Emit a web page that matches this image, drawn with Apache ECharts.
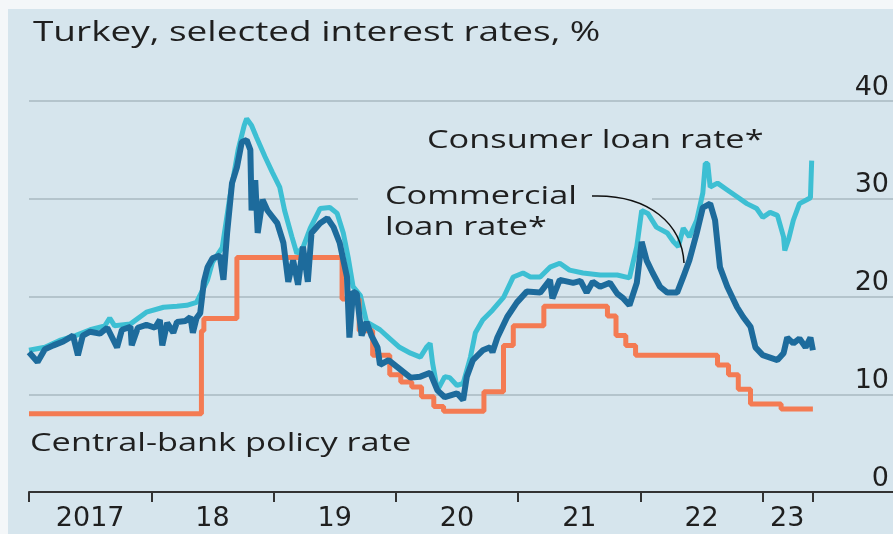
<!DOCTYPE html>
<html>
<head>
<meta charset="utf-8">
<script src="https://cdn.jsdelivr.net/npm/echarts@6/dist/echarts.min.js"></script>
<style>
  html, body { margin: 0; padding: 0; background: #fff; }
  #chart { width: 893px; height: 534px; }
</style>
</head>
<body>
<div id="chart"></div>
<script>
// year ticks and labels (labels sit between ticks)
var tickYears = [2017, 2018, 2019, 2020, 2021, 2022, 2023, 2023.41];
var labelYears = [2017.5, 2018.5, 2019.5, 2020.5, 2021.5, 2022.5, 2023.2];
var yearLabels = ['2017', '18', '19', '20', '21', '22', '23'];

// central-bank policy rate, [date as decimal year, rate] at each change
var policyRate = [
  [2017.00, 8], [2018.41, 16.5], [2018.43, 17.75], [2018.70, 24], [2019.56, 19.75],
  [2019.70, 16.5], [2019.81, 14], [2019.95, 12], [2020.04, 11.25], [2020.13, 10.75],
  [2020.21, 9.75], [2020.31, 8.75], [2020.39, 8.25], [2020.72, 10.25], [2020.88, 15],
  [2020.96, 17], [2021.21, 19], [2021.73, 18], [2021.80, 16], [2021.88, 15],
  [2021.96, 14], [2022.63, 13], [2022.72, 12], [2022.80, 10.5], [2022.90, 9],
  [2023.15, 8.5], [2023.41, 8.5]
];

// consumer loan rate*
var consumerRate = [
  [2017.00, 14.5], [2017.13, 14.8], [2017.25, 15.5], [2017.38, 16.0], [2017.50, 16.6],
  [2017.62, 17.0], [2017.66, 17.8], [2017.70, 17.0], [2017.83, 17.2], [2017.96, 18.4],
  [2018.10, 18.9], [2018.21, 19.0], [2018.29, 19.1], [2018.37, 19.4], [2018.46, 21.7],
  [2018.50, 23.5], [2018.58, 25.0], [2018.64, 30.0], [2018.71, 35.0], [2018.76, 37.5],
  [2018.78, 38.2], [2018.82, 37.5], [2018.86, 36.3], [2018.93, 34.3], [2018.99, 32.7],
  [2019.05, 31.2], [2019.09, 28.8], [2019.15, 26.1], [2019.19, 24.4], [2019.24, 25.0],
  [2019.30, 27.0], [2019.38, 29.0], [2019.46, 29.1], [2019.52, 28.5], [2019.57, 26.5],
  [2019.61, 24.0], [2019.65, 21.0], [2019.71, 20.1], [2019.76, 17.4], [2019.87, 16.6],
  [2019.95, 15.7], [2020.03, 14.8], [2020.12, 14.2], [2020.20, 13.8], [2020.25, 14.8],
  [2020.28, 15.2], [2020.30, 13.2], [2020.34, 10.4], [2020.40, 11.8], [2020.44, 11.7],
  [2020.50, 10.9], [2020.55, 11.1], [2020.61, 13.8], [2020.65, 16.3], [2020.71, 17.6],
  [2020.79, 18.6], [2020.88, 19.9], [2020.96, 22.0], [2021.04, 22.4], [2021.10, 22.0],
  [2021.18, 22.0], [2021.26, 23.0], [2021.34, 23.4], [2021.42, 22.7], [2021.53, 22.4],
  [2021.67, 22.2], [2021.81, 22.2], [2021.91, 21.9], [2021.97, 25.1], [2022.01, 28.8],
  [2022.06, 28.5], [2022.13, 27.1], [2022.22, 26.5], [2022.27, 25.6], [2022.31, 25.1],
  [2022.35, 27.0], [2022.40, 26.1], [2022.46, 27.8], [2022.51, 30.6], [2022.53, 33.6],
  [2022.55, 33.6], [2022.57, 31.2], [2022.63, 31.6], [2022.71, 30.9], [2022.79, 30.2],
  [2022.87, 29.5], [2022.95, 29.0], [2023.00, 28.1], [2023.06, 28.6], [2023.12, 28.3],
  [2023.17, 26.1], [2023.18, 24.7], [2023.21, 25.8], [2023.25, 27.8], [2023.30, 29.5],
  [2023.36, 29.9], [2023.39, 30.1], [2023.40, 33.9]
];

// commercial loan rate*
var commercialRate = [
  [2017.00, 14.3], [2017.07, 13.3], [2017.13, 14.6], [2017.20, 15.0], [2017.28, 15.4],
  [2017.36, 16.0], [2017.40, 14.0], [2017.44, 16.0], [2017.50, 16.4], [2017.58, 16.2],
  [2017.64, 16.8], [2017.72, 14.8], [2017.76, 16.6], [2017.83, 16.9], [2017.84, 15.0],
  [2017.89, 16.8], [2017.96, 17.1], [2018.03, 16.8], [2018.07, 17.6], [2018.09, 15.0],
  [2018.13, 17.3], [2018.18, 16.3], [2018.21, 17.4], [2018.28, 17.5], [2018.32, 17.9],
  [2018.34, 16.3], [2018.37, 17.8], [2018.40, 18.3], [2018.43, 21.5], [2018.46, 23.0],
  [2018.50, 23.9], [2018.56, 24.2], [2018.59, 21.7], [2018.62, 26.5], [2018.66, 31.6],
  [2018.70, 33.2], [2018.74, 35.8], [2018.78, 36.0], [2018.81, 35.0], [2018.82, 28.8],
  [2018.85, 31.9], [2018.87, 26.5], [2018.91, 29.9], [2018.95, 28.8], [2019.03, 27.5],
  [2019.08, 25.5], [2019.12, 21.5], [2019.16, 23.7], [2019.20, 21.2], [2019.24, 25.1],
  [2019.28, 21.5], [2019.31, 26.5], [2019.38, 27.5], [2019.44, 28.0], [2019.49, 27.1],
  [2019.54, 25.5], [2019.60, 22.0], [2019.62, 15.8], [2019.65, 20.5], [2019.68, 20.3],
  [2019.72, 16.0], [2019.76, 17.4], [2019.80, 16.0], [2019.85, 14.8], [2019.87, 13.0],
  [2019.94, 13.5], [2020.02, 12.7], [2020.12, 11.7], [2020.20, 11.8], [2020.28, 12.2],
  [2020.34, 10.4], [2020.40, 9.7], [2020.50, 10.1], [2020.55, 9.4], [2020.58, 11.8],
  [2020.63, 13.5], [2020.71, 14.5], [2020.77, 14.8], [2020.79, 14.3], [2020.83, 15.8],
  [2020.91, 17.9], [2020.99, 19.4], [2021.07, 20.5], [2021.18, 20.4], [2021.26, 21.7],
  [2021.28, 19.8], [2021.34, 21.7], [2021.45, 21.4], [2021.51, 21.6], [2021.56, 20.4],
  [2021.61, 21.5], [2021.67, 21.0], [2021.75, 21.4], [2021.81, 20.3], [2021.86, 19.8],
  [2021.91, 19.1], [2021.97, 21.4], [2022.01, 25.6], [2022.05, 23.7], [2022.10, 22.4],
  [2022.16, 21.0], [2022.22, 20.4], [2022.30, 20.4], [2022.35, 22.0], [2022.40, 23.7],
  [2022.46, 26.5], [2022.51, 29.1], [2022.57, 29.5], [2022.61, 27.8], [2022.65, 23.0],
  [2022.71, 21.0], [2022.79, 18.9], [2022.84, 17.9], [2022.90, 16.9], [2022.94, 14.8],
  [2023.00, 14.0], [2023.12, 13.5], [2023.17, 14.2], [2023.20, 15.8], [2023.25, 15.2],
  [2023.30, 15.7], [2023.35, 14.8], [2023.39, 15.8], [2023.41, 14.5]
];

var bg = '#d6e5ed';
var textColor = '#1f1f1f';
var fontFamily = '"Open Sans", sans-serif';
var axisFont = '"DejaVu Sans", sans-serif';
var stretch = 1.32; // the lettering in the original is set wide

var chart = echarts.init(document.getElementById('chart'));

function label(text, x, y, size) {
  return {
    type: 'text', x: x, y: y, scaleX: stretch, z: 100,
    style: { text: text, font: size + 'px ' + fontFamily, fill: textColor, verticalAlign: 'middle' }
  };
}

var option = {
  backgroundColor: bg,
  animation: false,
  grid: { left: 29, right: 0, top: 101, bottom: 42 },
  xAxis: {
    type: 'value',
    min: 2017,
    max: 2024.065,
    axisLine: { show: true, lineStyle: { color: '#333', width: 2 } },
    axisTick: { show: true, customValues: tickYears, length: 10, lineStyle: { color: '#333', width: 2 } },
    axisLabel: {
      customValues: labelYears,
      margin: 13,
      fontSize: 27,
      fontFamily: axisFont,
      color: textColor,
      formatter: function (v) {
        var best = 0;
        labelYears.forEach(function (p, i) {
          if (Math.abs(p - v) < Math.abs(labelYears[best] - v)) best = i;
        });
        return yearLabels[best];
      }
    },
    splitLine: { show: false }
  },
  yAxis: {
    type: 'value',
    position: 'right',
    min: 0,
    max: 40,
    interval: 10,
    axisLine: { show: false },
    axisTick: { show: false },
    axisLabel: {
      inside: true,
      verticalAlign: 'bottom',
      margin: 4,
      fontSize: 27,
      fontFamily: axisFont,
      color: textColor
    },
    splitLine: { lineStyle: { color: '#a9b8c1', width: 1.5 } }
  },
  series: [
    {
      name: 'Consumer loan rate*',
      type: 'line',
      data: consumerRate,
      showSymbol: false,
      lineStyle: { color: '#3dbfd3', width: 5 },
      z: 2
    },
    {
      name: 'Central-bank policy rate',
      type: 'line',
      step: 'end',
      data: policyRate,
      showSymbol: false,
      lineStyle: { color: '#f47b53', width: 5 },
      z: 3
    },
    {
      name: 'Commercial loan rate*',
      type: 'line',
      data: commercialRate,
      showSymbol: false,
      lineStyle: { color: '#1d6b9c', width: 6 },
      z: 4
    }
  ],
  graphic: [
    // white strips at the top and left edge
    { type: 'rect', left: 0, top: 0, shape: { width: 893, height: 9 }, style: { fill: '#f4f7f9' }, z: 100 },
    { type: 'rect', left: 0, top: 0, shape: { width: 8, height: 534 }, style: { fill: '#f4f7f9' }, z: 100 },
    label('Turkey, selected interest rates, %', 33, 33, 28),
    label('Consumer loan rate*', 427, 141, 26),
    { type: 'rect', shape: { x: 358, y: 191, width: 294, height: 14 }, style: { fill: bg }, z: 90 },
    label('Commercial', 385, 197, 26),
    label('loan rate*', 385, 228, 26),
    label('Central-bank policy rate', 30, 444, 26),
    // leader line to the commercial rate
    {
      type: 'bezierCurve',
      shape: { x1: 592, y1: 196, cpx1: 650, cpy1: 194, cpx2: 682, cpy2: 225, x2: 684, y2: 263 },
      style: { stroke: '#111', lineWidth: 1.5, fill: null },
      z: 100
    }
  ]
};

chart.setOption(option);
</script>
</body>
</html>
